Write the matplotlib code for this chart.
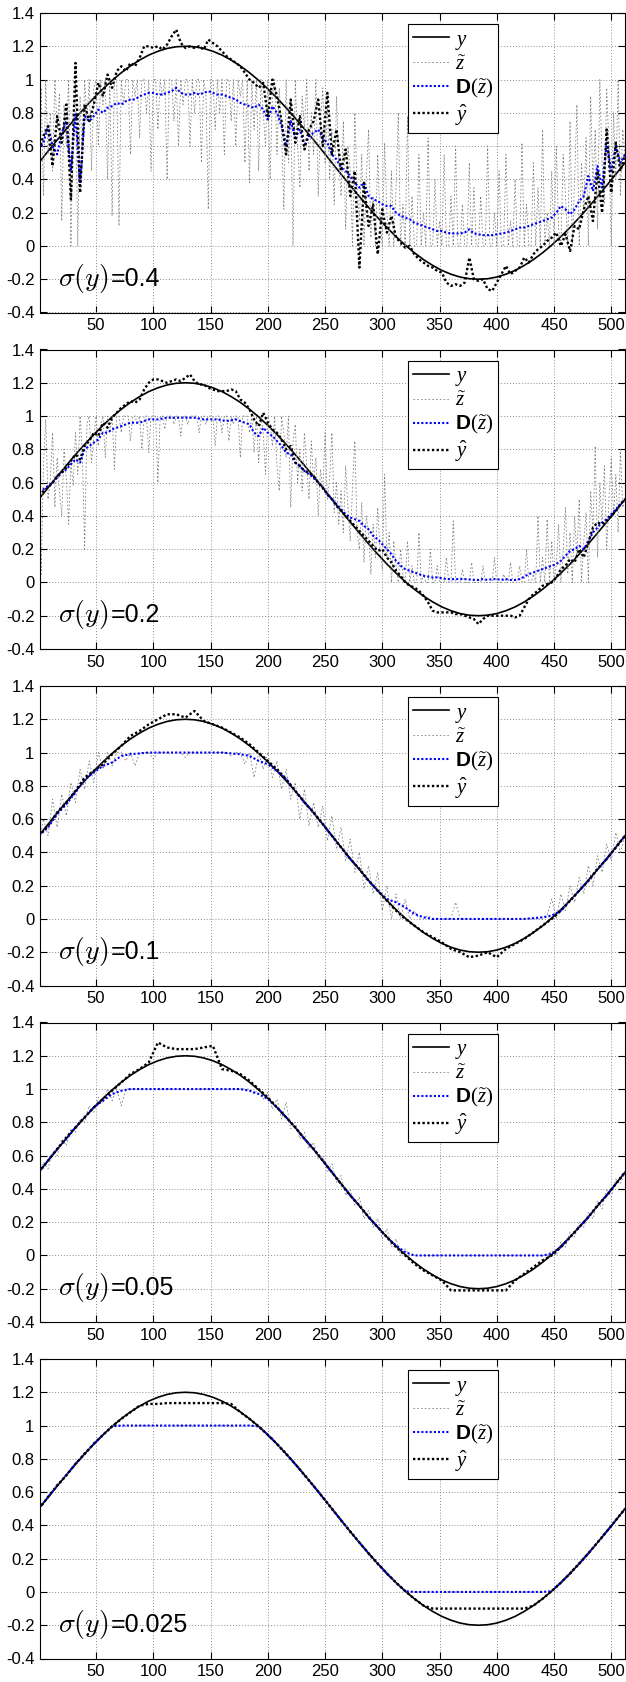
import numpy as np
import matplotlib
matplotlib.use("Agg")
import matplotlib.pyplot as plt
import matplotlib.transforms as mtransforms

plt.rcParams['font.family'] = ['Liberation Sans', 'DejaVu Sans']
plt.rcParams['mathtext.fontset'] = 'custom'
plt.rcParams['mathtext.it'] = 'Liberation Serif:italic'
plt.rcParams['mathtext.rm'] = 'Liberation Serif'
plt.rcParams['mathtext.bf'] = 'Liberation Sans:bold'

# ---------------- data ----------------
sigma_labels = ['0.4', '0.2', '0.1', '0.05', '0.025']
x_ticks = [50, 100, 150, 200, 250, 300, 350, 400, 450, 500]
y_tick_vals = [-0.4, -0.2, 0, 0.2, 0.4, 0.6, 0.8, 1.0, 1.2, 1.4]
y_tick_labels = ['-0.4', '-0.2', '0', '0.2', '0.4', '0.6', '0.8', '1', '1.2', '1.4']
legend_labels = [r'$y$', r'$\tilde{z}$', r'$\mathbf{D}(\tilde{z})$', r'$\hat{y}$']

# true signal y, sampled every 8
y_true = [0.500, 0.569, 0.637, 0.703, 0.768, 0.830, 0.889, 0.944,
          0.995, 1.041, 1.082, 1.117, 1.147, 1.170, 1.187, 1.197,
          1.200, 1.197, 1.187, 1.170, 1.147, 1.117, 1.082, 1.041,
          0.995, 0.944, 0.889, 0.830, 0.768, 0.703, 0.637, 0.569,
          0.500, 0.431, 0.363, 0.297, 0.232, 0.170, 0.111, 0.056,
          0.005, -0.041, -0.082, -0.117, -0.147, -0.170, -0.187, -0.197,
          -0.200, -0.197, -0.187, -0.170, -0.147, -0.117, -0.082, -0.041,
          0.005, 0.056, 0.111, 0.170, 0.232, 0.297, 0.363, 0.431,
          0.500]

# ---- sigma = 0.4 ----  z every 2, D and yhat every 4
z_040 = [0.62, 0.95, 0.3, 1.0, 0.55, 0.8, 0.45, 1.0, 0.7, 0.92, 0.15, 0.85, 0.6, 1.0, 0.0, 0.75,
         1.0, 0.0, 0.9, 0.5, 1.0, 0.75, 1.0, 0.45, 0.95, 1.0, 0.6, 1.0, 0.85, 1.0, 0.4, 1.0,
         0.18, 1.0, 1.0, 0.12, 1.0, 0.85, 1.0, 1.0, 0.55, 1.0, 0.9, 1.0, 0.65, 1.0, 1.0, 0.8,
         1.0, 0.45, 1.0, 1.0, 0.7, 1.0, 0.9, 1.0, 0.4, 1.0, 1.0, 0.75, 1.0, 0.6, 1.0, 0.85,
         1.0, 1.0, 0.6, 1.0, 0.8, 1.0, 1.0, 0.5, 1.0, 0.9, 0.22, 1.0, 1.0, 0.7, 1.0, 0.8,
         1.0, 0.55, 1.0, 1.0, 0.75, 1.0, 0.6, 1.0, 0.9, 1.0, 0.5, 1.0, 0.38, 1.0, 0.7, 1.0,
         0.45, 1.0, 0.8, 0.6, 1.0, 0.4, 0.9, 1.0, 0.55, 0.95, 0.7, 0.22, 1.0, 0.5, 0.85, 0.0,
         1.0, 0.6, 0.35, 0.9, 0.7, 1.0, 0.45, 0.8, 0.55, 1.0, 0.3, 0.75, 0.95, 0.5, 0.85, 0.4,
         0.7, 0.25, 0.9, 0.5, 0.3, 0.75, 0.1, 0.6, 0.45, 0.0, 0.8, 0.35, 0.15, 0.55, 0.0, 0.4,
         0.7, 0.05, 0.3, 0.0, 0.55, 0.15, 0.0, 0.62, 0.2, 0.0, 0.45, 0.0, 0.35, 0.8, 0.0, 0.25,
         0.0, 0.78, 0.0, 0.3, 0.0, 0.0, 0.55, 0.0, 0.2, 0.0, 0.65, 0.0, 0.0, 0.4, 0.0, 0.15,
         0.0, 0.55, 0.0, 0.0, 0.3, 0.0, 0.6, 0.0, 0.0, 0.25, 0.0, 0.0, 0.5, 0.0, 0.35, 0.0,
         0.0, 0.3, 0.0, 0.0, 0.6, 0.0, 0.0, 0.2, 0.0, 0.45, 0.0, 0.0, 0.55, 0.0, 0.15, 0.0,
         0.4, 0.0, 0.0, 0.62, 0.0, 0.25, 0.0, 0.0, 0.5, 0.0, 0.35, 0.0, 0.7, 0.0, 0.2, 0.0,
         0.45, 0.0, 0.6, 0.1, 0.0, 0.55, 0.3, 0.0, 0.75, 0.0, 0.4, 0.85, 0.0, 0.5, 0.2, 0.65,
         0.0, 0.9, 0.35, 0.7, 0.1, 1.0, 0.5, 0.25, 0.95, 0.6, 0.0, 0.8, 0.4, 1.0, 0.3, 0.7,
         0.55]
d_040 = [0.58, 0.62, 0.72, 0.6, 0.55, 0.68, 0.75, 0.45,
         0.8, 0.36, 0.78, 0.75, 0.78, 0.82, 0.8, 0.83,
         0.84, 0.86, 0.85, 0.87, 0.88, 0.88, 0.9, 0.91,
         0.92, 0.92, 0.91, 0.91, 0.92, 0.93, 0.95, 0.92,
         0.91, 0.91, 0.92, 0.91, 0.92, 0.93, 0.92, 0.91,
         0.91, 0.9, 0.89, 0.88, 0.86, 0.85, 0.84, 0.83,
         0.85, 0.82, 0.76, 0.84, 0.8, 0.72, 0.6, 0.75,
         0.65, 0.7, 0.6, 0.66, 0.68, 0.7, 0.65, 0.62,
         0.55, 0.52, 0.47, 0.45, 0.42, 0.38, 0.35, 0.38,
         0.3, 0.28, 0.27, 0.25, 0.24, 0.24, 0.2, 0.18,
         0.17, 0.16, 0.14, 0.13, 0.12, 0.11, 0.1, 0.09,
         0.09, 0.08, 0.075, 0.075, 0.075, 0.08, 0.1, 0.075,
         0.07, 0.065, 0.065, 0.065, 0.07, 0.075, 0.08, 0.09,
         0.1, 0.11, 0.11, 0.12, 0.13, 0.14, 0.15, 0.16,
         0.17, 0.2, 0.24, 0.22, 0.19, 0.22, 0.27, 0.3,
         0.42, 0.33, 0.48, 0.35, 0.62, 0.45, 0.6, 0.5,
         0.55]
yhat_040 = [0.58, 0.66, 0.72, 0.48, 0.78, 0.62, 0.85, 0.28,
            1.1, 0.32, 0.85, 0.75, 0.85, 0.98, 0.9, 1.03,
            0.95, 1.05, 1.08, 1.05, 1.1, 1.08, 1.13, 1.2,
            1.2, 1.19, 1.2, 1.18, 1.21, 1.26, 1.3, 1.22,
            1.19, 1.2, 1.19, 1.2, 1.18, 1.24, 1.22, 1.2,
            1.17, 1.14, 1.12, 1.1, 1.08, 1.04, 1.0, 0.98,
            0.95, 0.98, 0.78, 1.0, 0.9, 0.75, 0.55, 0.88,
            0.62, 0.78, 0.58, 0.7, 0.75, 0.88, 0.6, 0.92,
            0.55, 0.7, 0.45, 0.58, 0.3, 0.45, -0.13, 0.38,
            0.12, 0.25, -0.05, 0.22, 0.08, 0.18, 0.05, 0.02,
            -0.01, 0.0, -0.05, -0.08, -0.1, -0.12, -0.13, -0.15,
            -0.16, -0.22, -0.24, -0.23, -0.24, -0.22, -0.07, -0.2,
            -0.21, -0.2, -0.26, -0.27, -0.22, -0.17, -0.12, -0.17,
            -0.15, -0.13, -0.07, -0.1, -0.05, -0.02, 0.0, 0.03,
            0.05, 0.08, 0.0, 0.07, -0.03, 0.12, 0.1, 0.22,
            0.3, 0.15, 0.45, 0.2, 0.7, 0.32, 0.62, 0.45,
            0.55]

# ---- sigma = 0.2 ----  z every 2, D and yhat every 4
z_020 = [0.55, 0.05, 0.7, 0.98, 0.5, 0.62, 0.9, 0.45, 0.75, 0.55, 0.4, 0.8, 0.62, 0.35, 0.72, 0.58,
         0.9, 0.65, 1.0, 0.78, 0.2, 0.95, 1.0, 0.72, 0.88, 1.0, 0.82, 0.95, 1.0, 0.75, 1.0, 0.9,
         1.0, 0.68, 1.0, 1.0, 0.9, 1.0, 1.0, 1.0, 0.85, 1.0, 1.0, 0.95, 1.0, 0.8, 1.0, 1.0,
         0.78, 1.0, 1.0, 1.0, 0.6, 1.0, 1.0, 0.92, 1.0, 1.0, 1.0, 0.95, 1.0, 1.0, 0.88, 1.0,
         1.0, 0.95, 1.0, 1.0, 1.0, 1.0, 0.9, 1.0, 1.0, 0.95, 1.0, 1.0, 1.0, 0.82, 1.0, 1.0,
         0.9, 1.0, 1.0, 0.85, 1.0, 0.95, 1.0, 1.0, 0.75, 1.0, 1.0, 1.0, 0.9, 1.0, 0.78, 1.0,
         0.72, 1.0, 0.9, 0.65, 1.0, 0.95, 0.82, 1.0, 0.7, 0.55, 1.0, 0.9, 0.75, 1.0, 0.45, 0.85,
         0.95, 0.6, 0.8, 0.55, 0.9, 0.7, 0.5, 0.85, 0.6, 0.75, 0.4, 0.68, 0.55, 0.9, 0.5, 0.62,
         0.9, 0.42, 0.6, 0.35, 0.55, 0.3, 0.7, 0.45, 0.25, 0.58, 0.85, 0.3, 0.2, 0.48, 0.12, 0.4,
         0.3, 0.05, 0.35, 0.15, 0.45, 0.2, 0.08, 0.65, 0.15, 0.3, 0.0, 0.25, 0.1, 0.0, 0.2, 0.05,
         0.0, 0.25, 0.0, 0.1, 0.0, 0.0, 0.3, 0.0, 0.05, 0.0, 0.0, 0.2, 0.0, 0.0, 0.1, 0.0,
         0.0, 0.0, 0.15, 0.0, 0.0, 0.37, 0.0, 0.0, 0.0, 0.08, 0.0, 0.0, 0.0, 0.12, 0.0, 0.0,
         0.0, 0.0, 0.1, 0.0, 0.0, 0.0, 0.0, 0.15, 0.0, 0.0, 0.0, 0.05, 0.0, 0.0, 0.12, 0.0,
         0.0, 0.0, 0.1, 0.0, 0.0, 0.2, 0.0, 0.0, 0.05, 0.0, 0.4, 0.0, 0.15, 0.0, 0.38, 0.0,
         0.25, 0.0, 0.1, 0.35, 0.0, 0.2, 0.45, 0.05, 0.3, 0.0, 0.4, 0.15, 0.5, 0.0, 0.25, 0.42,
         0.0, 0.55, 0.3, 0.82, 0.15, 0.6, 0.35, 0.7, 0.2, 0.5, 0.75, 0.4, 0.65, 0.3, 0.8, 0.45,
         0.5]
d_020 = [0.55, 0.56, 0.58, 0.6, 0.63, 0.66, 0.68, 0.71,
         0.74, 0.72, 0.8, 0.82, 0.84, 0.86, 0.9, 0.9,
         0.92, 0.93, 0.94, 0.95, 0.96, 0.96, 0.96, 0.97,
         0.98, 0.98, 0.98, 0.985, 0.99, 0.99, 0.99, 0.99,
         0.99, 0.99, 0.99, 0.985, 0.98, 0.98, 0.98, 0.98,
         0.975, 0.97, 0.975, 0.98, 0.97, 0.96, 0.95, 0.9,
         0.88, 0.93, 0.9, 0.88, 0.85, 0.82, 0.78, 0.77,
         0.72, 0.7, 0.67, 0.65, 0.63, 0.6, 0.57, 0.53,
         0.5, 0.47, 0.44, 0.41, 0.39, 0.38, 0.37, 0.34,
         0.32, 0.28, 0.26, 0.23, 0.2, 0.17, 0.13, 0.1,
         0.08, 0.07, 0.06, 0.05, 0.04, 0.035, 0.03, 0.03,
         0.025, 0.02, 0.02, 0.02, 0.02, 0.02, 0.018, 0.015,
         0.015, 0.02, 0.015, 0.02, 0.02, 0.015, 0.02, 0.015,
         0.015, 0.02, 0.035, 0.05, 0.06, 0.07, 0.08, 0.09,
         0.1, 0.11, 0.13, 0.16, 0.19, 0.2, 0.22, 0.2,
         0.25, 0.3, 0.33, 0.36, 0.38, 0.41, 0.44, 0.47,
         0.5]
yhat_020 = [0.52, 0.55, 0.57, 0.6, 0.64, 0.66, 0.69, 0.73,
            0.77, 0.74, 0.82, 0.85, 0.9, 0.88, 0.96, 0.93,
            0.99, 1.02, 1.05, 1.07, 1.09, 1.08, 1.1, 1.16,
            1.2, 1.22, 1.22, 1.21, 1.2, 1.21, 1.22, 1.21,
            1.23, 1.25, 1.21, 1.19, 1.19, 1.17, 1.16, 1.15,
            1.15, 1.15, 1.16, 1.15, 1.1, 1.08, 1.04, 0.98,
            0.94, 1.02, 0.96, 0.92, 0.9, 0.86, 0.8, 0.82,
            0.72, 0.7, 0.67, 0.66, 0.64, 0.6, 0.57, 0.53,
            0.5, 0.46, 0.43, 0.4, 0.37, 0.34, 0.31, 0.28,
            0.25, 0.22, 0.19, 0.2, 0.15, 0.12, 0.07, 0.04,
            0.0, -0.02, -0.03, -0.05, -0.08, -0.12, -0.17, -0.18,
            -0.18, -0.18, -0.18, -0.19, -0.19, -0.2, -0.21, -0.22,
            -0.25, -0.22, -0.2, -0.2, -0.2, -0.2, -0.2, -0.2,
            -0.21, -0.2, -0.15, -0.1, -0.07, -0.05, -0.02, -0.01,
            0.0, 0.03, 0.08, 0.1, 0.14, 0.12, 0.2, 0.15,
            0.24, 0.33, 0.36, 0.35, 0.37, 0.4, 0.43, 0.47,
            0.5]

# ---- sigma = 0.1 ----  z every 4, D and yhat every 8
z_010 = [0.45, 0.6, 0.5, 0.72, 0.55, 0.75, 0.62, 0.82,
         0.7, 0.9, 0.78, 0.95, 0.82, 1.0, 0.9, 1.0,
         0.92, 1.0, 1.0, 0.95, 1.0, 0.92, 1.0, 1.0,
         1.0, 0.96, 1.0, 1.0, 1.0, 1.0, 1.0, 1.0,
         0.97, 1.0, 1.0, 1.0, 1.0, 1.0, 1.0, 1.0,
         1.0, 1.0, 0.98, 1.0, 1.0, 0.93, 1.0, 0.85,
         1.0, 0.9, 1.0, 0.85, 0.95, 0.78, 0.9, 0.72,
         0.82, 0.6, 0.78, 0.56, 0.7, 0.55, 0.68, 0.47,
         0.62, 0.42, 0.55, 0.35, 0.48, 0.28, 0.4, 0.18,
         0.32, 0.15, 0.28, 0.05, 0.2, 0.0, 0.15, 0.0,
         0.12, 0.0, 0.05, 0.0, 0.0, 0.02, 0.0, 0.0,
         0.0, 0.0, 0.0, 0.1, 0.0, 0.0, 0.0, 0.0,
         0.0, 0.0, 0.0, 0.0, 0.0, 0.0, 0.0, 0.0,
         0.0, 0.0, 0.0, 0.0, 0.0, 0.0, 0.0, 0.02,
         0.12, 0.0, 0.15, 0.05, 0.2, 0.1, 0.25, 0.15,
         0.32, 0.2, 0.38, 0.28, 0.45, 0.35, 0.52, 0.4,
         0.5]
d_010 = [0.5, 0.55, 0.63, 0.69, 0.76, 0.84, 0.88, 0.92,
         0.94, 0.98, 0.99, 0.995, 1.0, 1.0, 1.0, 1.0,
         1.0, 1.0, 1.0, 1.0, 1.0, 0.995, 0.99, 0.98,
         0.95, 0.93, 0.89, 0.84, 0.77, 0.7, 0.64, 0.57,
         0.5, 0.43, 0.36, 0.3, 0.23, 0.17, 0.12, 0.1,
         0.07, 0.03, 0.01, 0.0, 0.0, 0.0, 0.0, 0.0,
         0.0, 0.0, 0.0, 0.0, 0.0, 0.0, 0.005, 0.01,
         0.02, 0.05, 0.11, 0.17, 0.23, 0.3, 0.36, 0.43,
         0.5]
yhat_010 = [0.5, 0.56, 0.64, 0.7, 0.77, 0.85, 0.89, 0.93,
            0.99, 1.04, 1.1, 1.13, 1.17, 1.2, 1.23, 1.23,
            1.21, 1.25, 1.19, 1.17, 1.15, 1.12, 1.09, 1.05,
            1.0, 0.95, 0.9, 0.84, 0.77, 0.7, 0.64, 0.57,
            0.5, 0.43, 0.36, 0.3, 0.23, 0.17, 0.11, 0.05,
            0.0, -0.04, -0.08, -0.11, -0.14, -0.18, -0.2, -0.23,
            -0.22, -0.2, -0.23, -0.18, -0.15, -0.12, -0.08, -0.04,
            0.0, 0.05, 0.11, 0.17, 0.23, 0.3, 0.36, 0.43,
            0.5]

# ---- sigma = 0.05 ----
z_005 = [0.5, 0.56, 0.52, 0.62, 0.6, 0.7, 0.66, 0.76,
         0.74, 0.82, 0.8, 0.9, 0.86, 0.95, 0.92, 1.0,
         0.93, 1.0, 0.9, 1.0, 1.0, 1.0, 1.0, 1.0,
         1.0, 1.0, 1.0, 1.0, 1.0, 1.0, 1.0, 1.0,
         1.0, 1.0, 1.0, 1.0, 1.0, 1.0, 1.0, 1.0,
         1.0, 1.0, 1.0, 1.0, 1.0, 1.0, 1.0, 0.97,
         1.0, 0.94, 0.98, 0.88, 0.94, 0.82, 0.92, 0.76,
         0.8, 0.7, 0.74, 0.64, 0.68, 0.58, 0.6, 0.5,
         0.55, 0.44, 0.48, 0.36, 0.4, 0.3, 0.35, 0.22,
         0.27, 0.17, 0.22, 0.1, 0.16, 0.05, 0.1, 0.0,
         0.04, 0.0, 0.0, 0.0, 0.0, 0.0, 0.0, 0.0,
         0.0, 0.0, 0.0, 0.0, 0.0, 0.0, 0.0, 0.0,
         0.0, 0.0, 0.0, 0.0, 0.0, 0.0, 0.0, 0.0,
         0.0, 0.0, 0.0, 0.0, 0.0, 0.0, 0.0, 0.0,
         0.03, 0.0, 0.08, 0.05, 0.14, 0.11, 0.2, 0.17,
         0.26, 0.22, 0.33, 0.28, 0.4, 0.35, 0.46, 0.43,
         0.5]
d_005 = [0.5, 0.57, 0.64, 0.7, 0.77, 0.83, 0.89, 0.93,
         0.97, 0.99, 1.0, 1.0, 1.0, 1.0, 1.0, 1.0,
         1.0, 1.0, 1.0, 1.0, 1.0, 1.0, 1.0, 0.99,
         0.97, 0.94, 0.89, 0.83, 0.77, 0.7, 0.64, 0.57,
         0.5, 0.43, 0.36, 0.3, 0.23, 0.17, 0.11, 0.06,
         0.02, 0.0, 0.0, 0.0, 0.0, 0.0, 0.0, 0.0,
         0.0, 0.0, 0.0, 0.0, 0.0, 0.0, 0.0, 0.0,
         0.01, 0.05, 0.11, 0.17, 0.23, 0.3, 0.36, 0.43,
         0.5]
yhat_005 = [0.5, 0.57, 0.64, 0.71, 0.77, 0.83, 0.89, 0.94,
            0.99, 1.04, 1.09, 1.12, 1.16, 1.28, 1.25, 1.24,
            1.24, 1.24, 1.25, 1.26, 1.12, 1.11, 1.09, 1.05,
            1.0, 0.95, 0.89, 0.83, 0.77, 0.7, 0.64, 0.57,
            0.5, 0.43, 0.36, 0.3, 0.23, 0.17, 0.11, 0.05,
            0.0, -0.05, -0.09, -0.12, -0.15, -0.21, -0.21, -0.21,
            -0.21, -0.21, -0.21, -0.21, -0.15, -0.11, -0.07, -0.03,
            0.0, 0.05, 0.11, 0.17, 0.23, 0.3, 0.36, 0.43,
            0.5]

# ---- sigma = 0.025 ----
z_0025 = [0.51, 0.53, 0.58, 0.6, 0.65, 0.66, 0.71, 0.73,
          0.78, 0.8, 0.84, 0.86, 0.9, 0.91, 0.95, 0.97,
          1.0, 1.0, 1.0, 1.0, 1.0, 1.0, 1.0, 1.0,
          1.0, 1.0, 1.0, 1.0, 1.0, 1.0, 1.0, 1.0,
          1.0, 1.0, 1.0, 1.0, 1.0, 1.0, 1.0, 1.0,
          1.0, 1.0, 1.0, 1.0, 1.0, 1.0, 1.0, 1.0,
          0.99, 0.98, 0.94, 0.93, 0.88, 0.87, 0.82, 0.81,
          0.76, 0.75, 0.69, 0.68, 0.63, 0.61, 0.56, 0.54,
          0.49, 0.47, 0.42, 0.4, 0.35, 0.34, 0.29, 0.27,
          0.22, 0.21, 0.16, 0.15, 0.1, 0.09, 0.05, 0.04,
          0.0, 0.0, 0.0, 0.0, 0.0, 0.0, 0.0, 0.0,
          0.0, 0.0, 0.0, 0.0, 0.0, 0.0, 0.0, 0.0,
          0.0, 0.0, 0.0, 0.0, 0.0, 0.0, 0.0, 0.0,
          0.0, 0.0, 0.0, 0.0, 0.0, 0.0, 0.0, 0.0,
          0.01, 0.04, 0.06, 0.09, 0.12, 0.15, 0.18, 0.21,
          0.24, 0.27, 0.3, 0.34, 0.37, 0.4, 0.44, 0.47,
          0.5]
d_0025 = [0.5, 0.569, 0.637, 0.703, 0.768, 0.83, 0.889, 0.944,
          0.995, 1.0, 1.0, 1.0, 1.0, 1.0, 1.0, 1.0,
          1.0, 1.0, 1.0, 1.0, 1.0, 1.0, 1.0, 1.0,
          0.995, 0.944, 0.889, 0.83, 0.768, 0.703, 0.637, 0.569,
          0.5, 0.431, 0.363, 0.297, 0.232, 0.17, 0.111, 0.056,
          0.005, 0.0, 0.0, 0.0, 0.0, 0.0, 0.0, 0.0,
          0.0, 0.0, 0.0, 0.0, 0.0, 0.0, 0.0, 0.0,
          0.005, 0.056, 0.111, 0.17, 0.232, 0.297, 0.363, 0.431,
          0.5]
yhat_0025 = [0.5, 0.57, 0.64, 0.7, 0.77, 0.83, 0.89, 0.944,
             0.995, 1.04, 1.08, 1.12, 1.13, 1.13, 1.135, 1.135,
             1.135, 1.135, 1.135, 1.135, 1.135, 1.13, 1.08, 1.04,
             0.995, 0.944, 0.889, 0.83, 0.768, 0.703, 0.637, 0.569,
             0.5, 0.431, 0.363, 0.297, 0.232, 0.17, 0.111, 0.056,
             0.005, -0.041, -0.082, -0.1, -0.1, -0.1, -0.1, -0.1,
             -0.1, -0.1, -0.1, -0.1, -0.1, -0.1, -0.082, -0.041,
             0.005, 0.056, 0.111, 0.17, 0.232, 0.297, 0.363, 0.431,
             0.5]

panels = [
    (z_040, 2, d_040, 4, yhat_040, 4),
    (z_020, 2, d_020, 4, yhat_020, 4),
    (z_010, 4, d_010, 8, yhat_010, 8),
    (z_005, 4, d_005, 8, yhat_005, 8),
    (z_0025, 4, d_0025, 8, yhat_0025, 8),
]

# ---------------- figure ----------------
W, H = 626, 1682
fig = plt.figure(figsize=(W / 100, H / 100), dpi=100)
left_px, width_px, height_px = 40, 585, 299.5
dotted = (0, (1, 1))

axes = []
for i, (z, zs, d, ds, yh, ys) in enumerate(panels):
    top_px = 13 + 336.5 * i
    ax = fig.add_axes([left_px / W, 1 - (top_px + height_px) / H,
                       width_px / W, height_px / H])
    axes.append(ax)
    x_y = np.arange(len(y_true)) * 8
    ax.plot(x_y, y_true, color='black', lw=1.2, ls='-', label=legend_labels[0])
    ax.plot(np.arange(len(z)) * zs, z, color='0.5', lw=0.6, ls=(0, (2, 2.5)),
            label=legend_labels[1])
    ax.plot(np.arange(len(d)) * ds, d, color=(0, 0, 1), lw=1.5, ls=dotted,
            label=legend_labels[2])
    ax.plot(np.arange(len(yh)) * ys, yh, color='black', lw=1.7, ls=dotted,
            label=legend_labels[3])

    ax.set_xlim(1, 512)
    ax.set_ylim(-0.4, 1.4)
    ax.set_xticks(x_ticks)
    ax.set_yticks(y_tick_vals)
    ax.set_yticklabels(y_tick_labels)
    ax.tick_params(direction='in', top=True, right=True, length=5, width=0.8,
                   labelsize=12, colors='black', pad=4)
    for sp in ax.spines.values():
        sp.set_linewidth(0.8)
        sp.set_color('black')
    ax.set_axisbelow(True)
    ax.grid(True, color='0.55', ls=(0, (1, 2)), lw=0.7)

    leg = ax.legend(loc='upper right', bbox_to_anchor=(0.783, 0.962),
                    fontsize=15, handlelength=1.75, handletextpad=0.25,
                    labelspacing=0.15, borderpad=0.25, borderaxespad=0,
                    fancybox=False, framealpha=1, edgecolor='black')
    leg.get_frame().set_linewidth(0.8)

# sigma labels
fig.canvas.draw()
renderer = fig.canvas.get_renderer()
for ax, lab in zip(axes, sigma_labels):
    tr = mtransforms.blended_transform_factory(ax.transAxes, ax.transData)
    t1 = ax.text(0.031, -0.238, r'$\sigma(y)$', transform=tr, va='baseline',
                 ha='left', fontsize=20, math_fontfamily='cm')
    bb = t1.get_window_extent(renderer=renderer)
    xa = ax.transAxes.inverted().transform((bb.x1 + 2, 0))[0]
    ax.text(xa, -0.238, '=' + lab, transform=tr, va='baseline', ha='left',
            fontsize=18, family=['Liberation Sans', 'DejaVu Sans'])

fig.savefig('out.png', dpi=100)
